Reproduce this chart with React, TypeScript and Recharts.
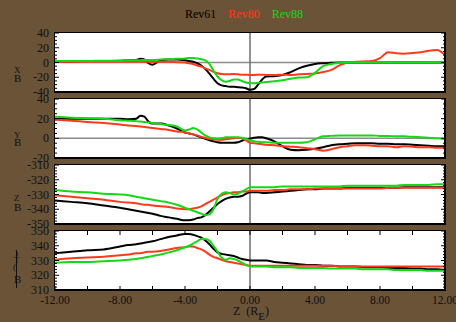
import React from 'react';
import { LineChart, Line, XAxis, YAxis, ReferenceLine } from 'recharts';

const Z = [-12, -11, -10, -9, -8, -7.5, -7, -6.75, -6.5, -6.25, -6, -5.5, -5, -4.5, -4, -3.75, -3.5, -3.25, -3, -2.75, -2.5, -2.25, -2, -1.75, -1.5, -1.25, -1, -0.75, -0.5, -0.25, 0, 0.25, 0.5, 0.75, 1, 1.5, 2, 2.5, 3, 3.5, 4, 4.5, 5, 5.5, 6, 6.5, 7, 7.5, 8, 8.5, 9, 9.5, 10, 10.5, 11, 11.5, 12];

const BX_REV61 = [1.5, 1.5, 2, 2, 2.5, 3, 3.5, 5, 4, -1, -3, 3, 4, 4, 3, 2, 1, -1, -4, -9, -15, -22, -28, -31, -32, -33, -33, -33.5, -34, -35, -37, -36, -30, -23, -19, -18.5, -17, -13, -8, -4.5, -2, -1, -0.5, 0, 0, 0, 0, 0, 0, 0, 0, 0, 0, 0, 0, 0, 0];
const BX_REV80 = [1, 1, 1, 1, 1, 1, 1, 1, 1, 1, 1, 1, 1, 0.5, 0, -1, -2, -4, -5.5, -8, -10, -12.5, -14.5, -15.5, -16, -16, -15.5, -16, -16.5, -16.5, -17, -17, -16.5, -16.5, -17, -17, -16.5, -17, -16, -15.5, -15, -13, -10, -4, 0, 1, 1.5, 2, 6, 14, 12.5, 12, 13, 14, 16, 17, 10];
const BX_REV88 = [2, 2, 2, 2.5, 2.5, 3, 3, 3, 3.5, 3.5, 3.5, 4, 4.5, 5, 5.5, 6, 6, 5.5, 4.5, 3, -2, -11, -19, -24, -26, -25, -23, -23, -25, -27, -28, -28, -27.5, -27, -26.5, -25.5, -24, -22, -20.5, -20, -14, -5, -2, -0.5, 0.5, 0.5, 0.5, 0.5, 0.5, 0.5, 0.5, 0.5, 0.5, 0.5, 0.5, 0.5, 0.5];

const BY_REV61 = [20, 20, 20, 20, 20, 19.5, 20, 23, 22, 17, 15, 15, 13, 10, 6, 5, 4, 2.5, 1, -0.5, -2, -3, -4, -4.5, -4.5, -4.5, -4.5, -4, -2.5, -1, -0.5, 0.5, 1, 1, 0, -3, -8, -11.5, -12, -11.5, -10.5, -9, -7, -6, -5.5, -5, -5, -5, -5.5, -5.5, -6, -6, -6.5, -7, -7.5, -8, -8];
const BY_REV80 = [19, 18, 16.5, 15.5, 14, 13, 12.5, 12, 11.5, 11, 10.5, 9.5, 8.5, 7, 6, 5, 4, 3, 1.5, 0.5, -0.5, -1, -1.5, -1.5, -1, -0.5, 0, 0.5, 0, -2, -4.5, -5, -5.5, -6, -6.5, -7, -8, -8.5, -9, -10, -11, -12.5, -11, -9, -8, -7, -7, -7.5, -8, -8, -9, -8, -8.5, -9, -9, -9.5, -9.5];
const BY_REV88 = [22, 21, 20.5, 20, 18.5, 18, 17.5, 17, 16.5, 16, 15.5, 14.5, 13.5, 12, 8, 9, 10.5, 9, 6, 3, 1, 0, -0.5, 0, 1, 1, 1, 1, 0.5, -0.5, -2, -3, -3.5, -4, -4, -4.5, -4.5, -4.5, -4.5, -4, -1, 2, 2.5, 3, 3, 3, 3, 3, 2.5, 2.5, 2, 2, 1.5, 1, 0.5, 0, -1];

const BZ_REV61 = [-334, -335, -336, -337.5, -339, -340, -341, -341.5, -342, -342.5, -343, -344.5, -345.5, -346.5, -347.5, -347.5, -347, -346, -345.5, -344, -341.5, -339, -336.5, -334.5, -333, -332, -331.5, -331.5, -331, -329.5, -328.5, -328.5, -328.5, -329, -329, -328.5, -328, -327.5, -327, -326.5, -326.5, -326, -326, -326, -325.5, -325.5, -325.5, -325.5, -325.5, -325.5, -325.5, -325, -325, -325, -325, -325, -325];
const BZ_REV80 = [-330.5, -331.5, -332.5, -333.5, -335, -335.5, -336, -336.5, -337, -337, -337.5, -338, -338.5, -339.5, -340, -340, -339.5, -339, -338, -336.5, -335, -333.5, -332, -330.5, -329.5, -329, -328.5, -328.5, -328, -328, -327.5, -327.5, -327.5, -327.5, -327.5, -327, -327, -326.5, -326.5, -326.5, -326, -326, -326, -326, -326, -326, -326, -326, -326, -325.5, -325.5, -325.5, -325.5, -325.5, -325.5, -325.5, -325.5];
const BZ_REV88 = [-327, -328, -328.5, -329.5, -330, -330.5, -331.5, -332, -332.5, -333, -333.5, -334.5, -335.5, -337, -339, -340, -341, -342, -343, -344, -343.5, -340, -333, -329.5, -328.5, -329, -330, -329.5, -328, -326.5, -325, -325, -325, -325, -325, -325, -324.5, -324.5, -324.5, -324.5, -324.5, -324.5, -324.5, -324.5, -324, -324, -324, -324, -324, -324, -324, -323.5, -323.5, -323.5, -323.5, -323, -323];

const BT_REV61 = [335, 336, 337, 337.5, 339.5, 340.5, 341, 341.5, 342, 342.5, 343, 344.5, 346, 347, 348, 348, 347.5, 346.5, 345.5, 343.5, 341, 338, 335.5, 334.5, 334, 333.5, 333, 332, 331, 330.5, 330, 330, 330, 330, 330, 329, 328.5, 328, 327.5, 327, 327, 326.5, 326.5, 326, 326, 326, 325.5, 325.5, 325.5, 325, 325, 325, 324.5, 324.5, 324, 324, 323.5];
const BT_REV80 = [330.5, 331.5, 332, 332.5, 333.5, 334, 335, 335, 335.5, 336, 336, 336.5, 337.5, 338.5, 339, 339.5, 339.5, 338.5, 337.5, 336, 334, 332.5, 331.5, 330.5, 329.5, 329, 328.5, 328, 327.5, 327, 326.5, 326.5, 326.5, 326.5, 326.5, 326.5, 326.5, 326.5, 326.5, 326.5, 326.5, 326.5, 326.5, 326, 326, 326, 326, 326, 326, 326, 326, 326, 326, 326, 326, 326, 326];
const BT_REV88 = [328.5, 329, 329, 329.5, 330, 330.5, 331, 331.5, 332, 332.5, 333, 334, 335.5, 337, 339, 340, 341.5, 343, 344.5, 344.5, 343.5, 340, 336, 332, 330.5, 331.5, 331, 330, 328.5, 327, 326, 326, 326, 326, 326, 325.5, 325.5, 325.5, 325, 325, 325, 325, 324.5, 324.5, 324.5, 324.5, 324, 324, 324, 324, 323.5, 323.5, 323.5, 323.5, 323, 323, 323];

const SERIES = [
  { key: 'rev61', name: 'Rev61', color: '#000000' },
  { key: 'rev80', name: 'Rev80', color: '#ff3a1c' },
  { key: 'rev88', name: 'Rev88', color: '#16d816' },
];

const X_TICKS = [-12, -10, -8, -6, -4, -2, 0, 2, 4, 6, 8, 10, 12];

const range = (a: number, b: number, s: number) => {
  const out: number[] = [];
  for (let v = a; v <= b + 1e-9; v += s) out.push(v);
  return out;
};

const BG = '#6a5337';
const PLOT_LEFT = 55;
const PLOT_RIGHT = 445;
const PLOT_H = 59;

const panels = [
  { top: 33, series: [BX_REV61, BX_REV80, BX_REV88], domain: [-40, 40], minor: 5, major: 20, zero: true },
  { top: 99, series: [BY_REV61, BY_REV80, BY_REV88], domain: [-20, 40], minor: 5, major: 20, zero: true },
  { top: 165, series: [BZ_REV61, BZ_REV80, BZ_REV88], domain: [-350, -310], minor: 2, major: 10, zero: false },
  { top: 231, series: [BT_REV61, BT_REV80, BT_REV88], domain: [310, 350], minor: 2, major: 10, zero: false },
];

const Panel = ({ cfg, showX }: any) => {
  const xH = showX ? 32 : 0;
  const data = Z.map((z, i) => ({
    z,
    rev61: cfg.series[0][i],
    rev80: cfg.series[1][i],
    rev88: cfg.series[2][i],
  }));
  const [lo, hi] = cfg.domain;

  const yTick = (p: any) => {
    const v = p.payload.value;
    const isMajor = Math.abs((v - lo) % cfg.major) < 1e-6;
    const len = isMajor ? 4 : 2;
    return (
      <g>
        <line x1={PLOT_LEFT} x2={PLOT_LEFT + len} y1={p.y} y2={p.y} stroke="#000" strokeWidth={1} />
        <line x1={PLOT_RIGHT - len} x2={PLOT_RIGHT} y1={p.y} y2={p.y} stroke="#000" strokeWidth={1} />
        {isMajor && (
          <text x={49} y={p.y + 4} textAnchor="end" fontSize={12} fill="#111">
            {v}
          </text>
        )}
      </g>
    );
  };

  const xTick = (p: any) => {
    const v = p.payload.value;
    return (
      <g>
        <line x1={p.x} x2={p.x} y1={0} y2={4} stroke="#000" strokeWidth={1} />
        <line x1={p.x} x2={p.x} y1={PLOT_H - 4} y2={PLOT_H} stroke="#000" strokeWidth={1} />
        {showX && v % 4 === 0 && (
          <text x={p.x} y={PLOT_H + 14} textAnchor="middle" fontSize={11.5} fill="#111">
            {v.toFixed(2)}
          </text>
        )}
      </g>
    );
  };

  return (
    <div style={{ position: 'absolute', left: 0, top: cfg.top, width: 456, height: PLOT_H + xH }}>
      <div style={{ position: 'absolute', left: PLOT_LEFT, top: 0, width: PLOT_RIGHT - PLOT_LEFT, height: PLOT_H, background: '#fff' }} />
      <div style={{ position: 'absolute', left: 0, top: 0 }}>
        <LineChart width={456} height={PLOT_H + xH} data={data} margin={{ top: 0, right: 456 - PLOT_RIGHT, bottom: 0, left: 0 }}>
          <XAxis
            type="number"
            dataKey="z"
            domain={[-12, 12]}
            ticks={X_TICKS}
            interval={0}
            height={xH}
            axisLine={false}
            tickLine={false}
            tick={xTick}
          />
          <YAxis
            type="number"
            domain={cfg.domain}
            ticks={range(lo, hi, cfg.minor)}
            interval={0}
            width={PLOT_LEFT}
            axisLine={false}
            tickLine={false}
            tick={yTick}
            allowDataOverflow
          />
          {cfg.zero && <ReferenceLine y={0} stroke="#8c8c8c" strokeWidth={1.5} />}
          <ReferenceLine x={0} stroke="#6e6e6e" strokeWidth={1.5} />
          {SERIES.map((s) => (
            <Line
              key={s.key}
              dataKey={s.key}
              stroke={s.color}
              strokeWidth={2}
              dot={false}
              type="monotone"
              isAnimationActive={false}
            />
          ))}
        </LineChart>
      </div>
      <div
        style={{
          position: 'absolute',
          left: PLOT_LEFT - 1,
          top: -1,
          width: PLOT_RIGHT - PLOT_LEFT + 2,
          height: PLOT_H + 2,
          boxSizing: 'border-box',
          borderTop: '1px solid #000',
          borderLeft: '1px solid #000',
          borderRight: '2px solid #000',
          borderBottom: '2px solid #000',
        }}
      />
    </div>
  );
};

const small = (left: number, top: number, text: string, size = 11): React.ReactNode => (
  <span style={{ position: 'absolute', left, top, fontSize: size, lineHeight: `${size}px`, color: '#111' }}>{text}</span>
);

export default function App() {
  return (
    <div
      style={{
        position: 'absolute',
        left: 0,
        top: 0,
        width: 456,
        height: 322,
        background: BG,
        overflow: 'hidden',
        fontFamily: '"Liberation Serif", "Times New Roman", serif',
      }}
    >
      <style>{'.recharts-wrapper svg, svg.recharts-surface { overflow: visible !important; }'}</style>
      <div style={{ position: 'absolute', left: 185, top: 7, display: 'flex', gap: 12, fontSize: 12, lineHeight: '14px' }}>
        {SERIES.map((s) => (
          <span key={s.key} style={{ color: s.color }}>
            {s.name}
          </span>
        ))}
      </div>

      {panels.map((p, i) => (
        <Panel key={i} cfg={p} showX={i === panels.length - 1} />
      ))}

      {small(14, 66, 'X', 9)}
      {small(14, 73, 'B', 11)}
      {small(14, 131, 'Y', 9)}
      {small(14, 137, 'B', 11)}
      {small(14, 194, 'Z', 9)}
      {small(14, 202, 'B', 11)}
      <div style={{ position: 'absolute', left: 16, top: 250, width: 1, height: 38, background: '#111' }} />
      {small(15, 249, ')', 9)}
      {small(14, 256, 'T', 9)}
      {small(13, 263, '(', 9)}
      {small(14, 274, 'B', 11)}

      <div style={{ position: 'absolute', left: 233, top: 305, fontSize: 12, lineHeight: '12px', color: '#111', whiteSpace: 'nowrap' }}>
        {'Z\u00a0\u00a0(R'}
        <span style={{ position: 'relative', top: 5, fontSize: 11 }}>E</span>
        {')'}
      </div>
    </div>
  );
}
